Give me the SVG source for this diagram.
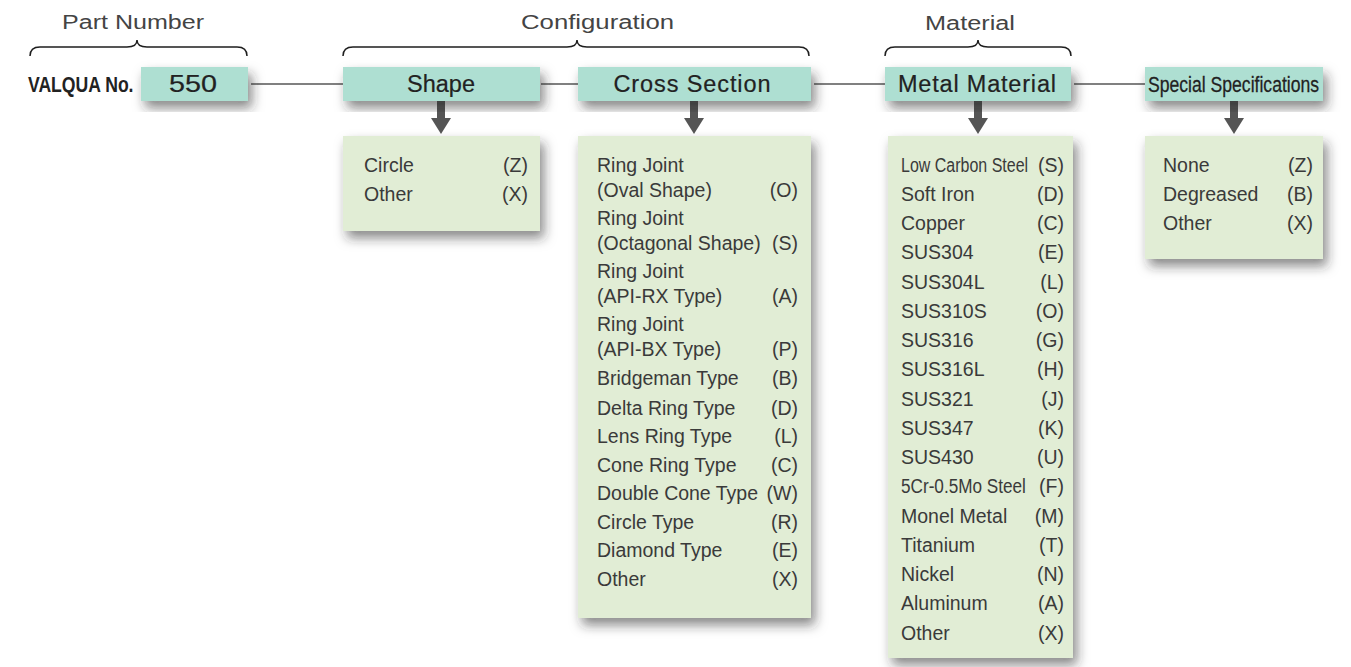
<svg xmlns="http://www.w3.org/2000/svg" width="1351" height="667" viewBox="0 0 1351 667">
  <defs>
    <filter id="shadow" x="-20%" y="-20%" width="150%" height="150%">
      <feDropShadow dx="4" dy="7" stdDeviation="6" flood-color="#2a2a2a" flood-opacity="0.55"/>
    </filter>
    <style>
      .cap { font-family: "Liberation Sans", Arial, sans-serif; font-size: 20px; fill: #444; }
      .brace { fill: none; stroke: #1e1e1e; stroke-width: 1.5; }
      .head { fill: #aedfd2; filter: url(#shadow); }
      .htxt { font-family: "Liberation Sans", Arial, sans-serif; font-size: 23.5px; fill: #222; text-anchor: middle; stroke: #222; stroke-width: 0.2; }
      .cond { font-family: "Liberation Sans", Arial, sans-serif; font-size: 22px; fill: #222; }
      .list { fill: #e1edd5; filter: url(#shadow); }
      .it { font-family: "Liberation Sans", Arial, sans-serif; font-size: 19.5px; fill: #3a3a3a; }
      .cd { text-anchor: end; }
      .link { stroke: #808080; stroke-width: 2; fill: none; }
      .arrow { fill: #555; }
    </style>
  </defs>

  <rect width="1351" height="667" fill="#ffffff"/>

  <!-- group labels with braces -->
  <g id="label-part-number">
    <text class="cap" x="62" y="29" textLength="142" lengthAdjust="spacingAndGlyphs">Part Number</text>
    <path class="brace" d="M30,56 Q30,47 40,47 L127,47 Q137,47 137,40 Q137,47 147,47 L237,47 Q247,47 247,56"/>
  </g>
  <g id="label-configuration">
    <text class="cap" x="521" y="29" textLength="153" lengthAdjust="spacingAndGlyphs">Configuration</text>
    <path class="brace" d="M343,56 Q343,47 353,47 L567,47 Q577,47 577,40 Q577,47 587,47 L799,47 Q809,47 809,56"/>
  </g>
  <g id="label-material">
    <text class="cap" x="925" y="30" textLength="90" lengthAdjust="spacingAndGlyphs">Material</text>
    <path class="brace" d="M885,56 Q885,47 895,47 L968,47 Q978,47 978,40 Q978,47 988,47 L1061,47 Q1071,47 1071,56"/>
  </g>

  <!-- connectors between header fields -->
  <g id="connectors">
    <line class="link" x1="251" y1="84" x2="343" y2="84"/>
    <line class="link" x1="541" y1="84" x2="578" y2="84"/>
    <line class="link" x1="814" y1="84" x2="885" y2="84"/>
    <line class="link" x1="1074" y1="84" x2="1145" y2="84"/>
    <path class="arrow" d="M437,101 H445 V118 H451 L441,134 L431,118 H437 Z"/>
    <path class="arrow" d="M690,101 H698 V118 H704 L694,134 L684,118 H690 Z"/>
    <path class="arrow" d="M974,101 H982 V118 H988 L978,134 L968,118 H974 Z"/>
    <path class="arrow" d="M1230,101 H1238 V118 H1244 L1234,134 L1224,118 H1230 Z"/>
  </g>

  <!-- part number -->
  <g id="node-part-number">
    <text class="cond" font-weight="bold" transform="translate(28,92) scale(0.8,1)">VALQUA No.</text>
    <rect class="head" x="141" y="67" width="107" height="34"/>
    <text class="htxt" x="193" y="92" font-size="25" textLength="48" lengthAdjust="spacingAndGlyphs">550</text>
  </g>

  <!-- shape -->
  <g id="node-shape">
    <rect class="head" x="343" y="67" width="197" height="34"/>
    <text class="htxt" x="441" y="92">Shape</text>
    <rect class="list" x="343" y="136" width="197" height="95"/>
    <text class="it" x="364" y="172">Circle</text><text class="it cd" x="528" y="172">(Z)</text>
    <text class="it" x="364" y="201">Other</text><text class="it cd" x="528" y="201">(X)</text>
  </g>

  <!-- cross section -->
  <g id="node-cross-section">
    <rect class="head" x="578" y="67" width="233" height="34"/>
    <text class="htxt" x="692" y="92" textLength="157" lengthAdjust="spacing">Cross Section</text>
    <rect class="list" x="578" y="136" width="233" height="482"/>
    <text class="it" x="597" y="172">Ring Joint</text>
    <text class="it" x="597" y="197">(Oval Shape)</text><text class="it cd" x="798" y="197">(O)</text>
    <text class="it" x="597" y="225">Ring Joint</text>
    <text class="it" x="597" y="250">(Octagonal Shape)</text><text class="it cd" x="798" y="250">(S)</text>
    <text class="it" x="597" y="278">Ring Joint</text>
    <text class="it" x="597" y="303">(API-RX Type)</text><text class="it cd" x="798" y="303">(A)</text>
    <text class="it" x="597" y="331">Ring Joint</text>
    <text class="it" x="597" y="356">(API-BX Type)</text><text class="it cd" x="798" y="356">(P)</text>
    <text class="it" x="597" y="385">Bridgeman Type</text><text class="it cd" x="798" y="385">(B)</text>
    <text class="it" x="597" y="415">Delta Ring Type</text><text class="it cd" x="798" y="415">(D)</text>
    <text class="it" x="597" y="443">Lens Ring Type</text><text class="it cd" x="798" y="443">(L)</text>
    <text class="it" x="597" y="472">Cone Ring Type</text><text class="it cd" x="798" y="472">(C)</text>
    <text class="it" x="597" y="500" textLength="161" lengthAdjust="spacing">Double Cone Type</text><text class="it cd" x="798" y="500">(W)</text>
    <text class="it" x="597" y="529">Circle Type</text><text class="it cd" x="798" y="529">(R)</text>
    <text class="it" x="597" y="557">Diamond Type</text><text class="it cd" x="798" y="557">(E)</text>
    <text class="it" x="597" y="586">Other</text><text class="it cd" x="798" y="586">(X)</text>
  </g>

  <!-- metal material -->
  <g id="node-metal-material">
    <rect class="head" x="885" y="67" width="186" height="34"/>
    <text class="htxt" x="977" y="92" textLength="158" lengthAdjust="spacing">Metal Material</text>
    <rect class="list" x="888" y="136" width="185" height="522"/>
    <text class="it" transform="translate(901,172) scale(0.82,1)">Low Carbon Steel</text><text class="it cd" x="1064" y="172">(S)</text>
    <text class="it" x="901" y="201">Soft Iron</text><text class="it cd" x="1064" y="201">(D)</text>
    <text class="it" x="901" y="230">Copper</text><text class="it cd" x="1064" y="230">(C)</text>
    <text class="it" x="901" y="259">SUS304</text><text class="it cd" x="1064" y="259">(E)</text>
    <text class="it" x="901" y="289">SUS304L</text><text class="it cd" x="1064" y="289">(L)</text>
    <text class="it" x="901" y="318">SUS310S</text><text class="it cd" x="1064" y="318">(O)</text>
    <text class="it" x="901" y="347">SUS316</text><text class="it cd" x="1064" y="347">(G)</text>
    <text class="it" x="901" y="376">SUS316L</text><text class="it cd" x="1064" y="376">(H)</text>
    <text class="it" x="901" y="406">SUS321</text><text class="it cd" x="1064" y="406">(J)</text>
    <text class="it" x="901" y="435">SUS347</text><text class="it cd" x="1064" y="435">(K)</text>
    <text class="it" x="901" y="464">SUS430</text><text class="it cd" x="1064" y="464">(U)</text>
    <text class="it" transform="translate(901,493) scale(0.88,1)">5Cr-0.5Mo Steel</text><text class="it cd" x="1064" y="493">(F)</text>
    <text class="it" x="901" y="523">Monel Metal</text><text class="it cd" x="1064" y="523">(M)</text>
    <text class="it" x="901" y="552">Titanium</text><text class="it cd" x="1064" y="552">(T)</text>
    <text class="it" x="901" y="581">Nickel</text><text class="it cd" x="1064" y="581">(N)</text>
    <text class="it" x="901" y="610">Aluminum</text><text class="it cd" x="1064" y="610">(A)</text>
    <text class="it" x="901" y="640">Other</text><text class="it cd" x="1064" y="640">(X)</text>
  </g>

  <!-- special specifications -->
  <g id="node-special-specifications">
    <rect class="head" x="1145" y="67" width="178" height="34"/>
    <text class="cond" stroke="#222" stroke-width="0.25" transform="translate(1148,92) scale(0.8,1)">Special Specifications</text>
    <rect class="list" x="1145" y="136" width="178" height="123"/>
    <text class="it" x="1163" y="172">None</text><text class="it cd" x="1313" y="172">(Z)</text>
    <text class="it" x="1163" y="201">Degreased</text><text class="it cd" x="1313" y="201">(B)</text>
    <text class="it" x="1163" y="230">Other</text><text class="it cd" x="1313" y="230">(X)</text>
  </g>
</svg>
